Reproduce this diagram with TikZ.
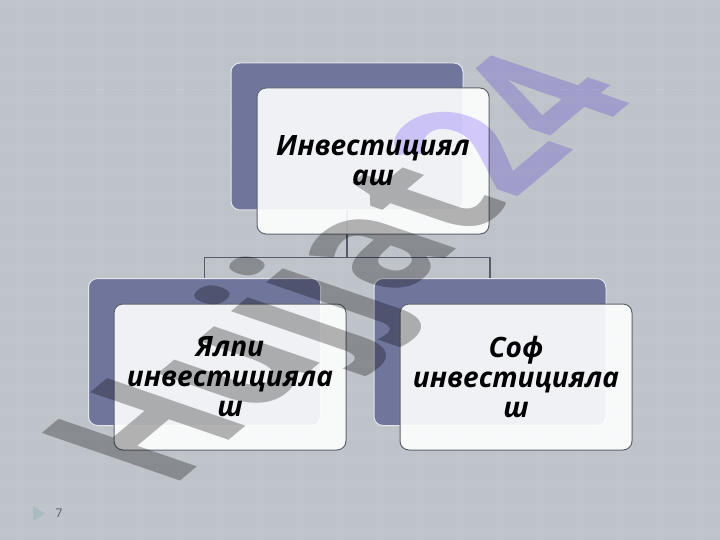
\documentclass[tikz,border=0pt]{standalone}
\usepackage{fontspec}
\setmainfont{Open Sans}
\newfontfamily\wmfont{Open Sans}
\usetikzlibrary{calc}
\definecolor{bgc}{HTML}{BEC3CA}
\definecolor{backfill}{HTML}{70759C}
\definecolor{backedge}{HTML}{E2E6EC}
\definecolor{frontdraw}{HTML}{5E636E}
\definecolor{connc}{HTML}{555B6C}
\definecolor{wmgray}{HTML}{B6B6B6}
\definecolor{wmlav}{HTML}{D8CEFF}
\definecolor{pgc}{HTML}{555A66}
\definecolor{tric}{HTML}{A9BCC2}
\begin{document}
\begin{tikzpicture}[x=1pt,y=-1pt,
  backbox/.style={draw=backedge, line width=1pt, fill=backfill, rounded corners=9pt,
    minimum width=232pt, minimum height=147pt, inner sep=0pt},
  frontbox/.style={draw=frontdraw, line width=1pt, fill=white, fill opacity=0.9, text opacity=1,
    rounded corners=9pt, minimum width=232pt, minimum height=146pt, align=center,
    font=\fontsize{28}{30}\selectfont\bfseries\itshape, inner sep=0pt},
  connline/.style={draw=connc, line width=1.2pt}]
\useasboundingbox (0,0) rectangle (720,540);
% background with faint texture
\fill[bgc] (0,0) rectangle (720,540);
\foreach \yy in {0,24,...,540} \fill[white, opacity=0.035] (0,\yy) rectangle (720,\yy+8);
\foreach \xx in {16,56,...,720} \fill[white, opacity=0.03] (\xx,0) rectangle (\xx+8,540);
\draw[white, opacity=0.1, dash pattern=on 10pt off 6pt] (30,89) -- (700,89);
% back boxes
\node[backbox] (tb) at (347,136.5) {};
\node[backbox] (lb) at (204.5,352) {};
\node[backbox] (rb) at (490,352) {};
% connectors
\draw[connline] (tb.south) -- ++(0,47) coordinate (j);
\draw[connline] (lb.north) |- (j);
\draw[connline] (rb.north) |- (j);
% front boxes
\node[frontbox] (tf) at (373,161) {Инвестициял\\аш};
\node[frontbox] (lf) at (230,377) {Ялпи\\инвестицияла\\ш};
\node[frontbox] (rf) at (516,377) {Соф\\инвестицияла\\ш};
% page marker
\fill[tric] (33,506) -- (45,513.5) -- (33,521) -- cycle;
\node[font=\fontsize{12}{12}\selectfont, text=pgc, inner sep=0pt] (pg) at (59,513) {7};
% watermark
\begin{scope}[shift={(170,489)}, cm={11.18,9.385,-19.38,6.674,(0,0)}, blend mode=multiply]
\node[transform shape, anchor=base west, inner sep=0pt, outer sep=0pt,
  font=\wmfont\fontsize{10}{10}\selectfont\bfseries] (wm) at (0,0)
  {\textcolor{wmgray}{Hujjat}\textcolor{wmlav}{24}};
\end{scope}
\end{tikzpicture}
\end{document}
